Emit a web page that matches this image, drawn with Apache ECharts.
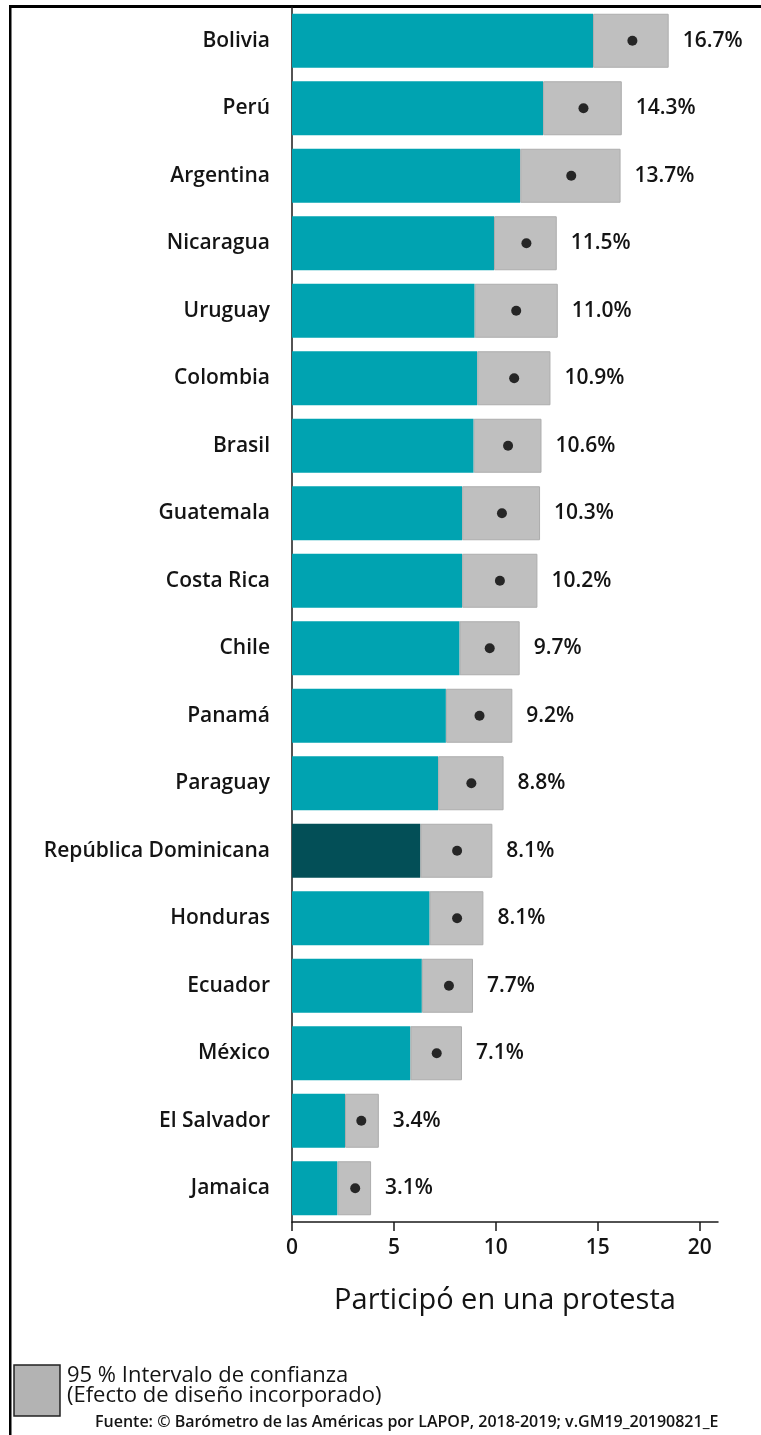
<!DOCTYPE html>
<html>
<head>
<meta charset="utf-8">
<script src="https://cdn.jsdelivr.net/npm/echarts@6/dist/echarts.min.js"></script>
<style>
html,body{margin:0;padding:0;background:#fff;}
#chart{width:761px;height:1435px;}
</style>
</head>
<body>
<div id="chart"></div>
<script>
var countries = ['Bolivia','Perú','Argentina','Nicaragua','Uruguay','Colombia','Brasil','Guatemala','Costa Rica','Chile','Panamá','Paraguay','República Dominicana','Honduras','Ecuador','México','El Salvador','Jamaica'];
var estimate = [16.7,14.3,13.7,11.5,11.0,10.9,10.6,10.3,10.2,9.7,9.2,8.8,8.1,8.1,7.7,7.1,3.4,3.1];
var ciLower = [14.77,12.32,11.2,9.91,8.96,9.09,8.91,8.35,8.35,8.22,7.55,7.17,6.3,6.75,6.37,5.81,2.6,2.23];
var ciUpper = [18.48,16.18,16.12,12.99,13.04,12.68,12.24,12.17,12.04,11.17,10.81,10.38,9.83,9.39,8.88,8.34,4.26,3.88];
var highlight = 'República Dominicana';
var xTicks = [0,5,10,15,20];
var axisTitle = 'Participó en una protesta';
var legendLines = ['95 % Intervalo de confianza','(Efecto de diseño incorporado)'];
var sourceText = 'Fuente: © Barómetro de las Américas por LAPOP, 2018-2019; v.GM19_20190821_E';

var FONT = '"Open Sans", "Noto Sans", sans-serif';
var TXT = '#141414';

var chart = echarts.init(document.getElementById('chart'), null, {renderer:'canvas'});

var lowerData = countries.map(function(c,i){
  return {value: ciLower[i], itemStyle:{color: c===highlight ? '#034F57' : '#00A3B1'}};
});
var spanData = countries.map(function(c,i){ return +(ciUpper[i]-ciLower[i]).toFixed(3); });
var dotData = countries.map(function(c,i){ return [estimate[i], c]; });

chart.setOption({
  animation:false,
  textStyle:{fontFamily:FONT},
  grid:{left:292, top:7, right:43, bottom:213, containLabel:false},
  xAxis:{
    type:'value', min:0, max:20.9, interval:5,
    axisLine:{show:true, lineStyle:{color:'#1a1a1a', width:1.5}},
    axisTick:{show:true, length:9, lineStyle:{color:'#1a1a1a', width:1.5}, customValues:xTicks},
    axisLabel:{color:TXT, fontSize:21, fontWeight:600, margin:16, customValues:xTicks, fontFamily:FONT},
    splitLine:{show:false},
    name:axisTitle, nameLocation:'middle', nameGap:64,
    nameTextStyle:{color:TXT, fontSize:29, fontWeight:500, fontFamily:FONT, verticalAlign:'top'}
  },
  yAxis:{
    type:'category', data:countries, inverse:true,
    axisLine:{show:true, lineStyle:{color:'#1a1a1a', width:1.5}},
    axisTick:{show:false},
    axisLabel:{color:TXT, fontSize:21, fontWeight:600, margin:22, fontFamily:FONT}
  },
  series:[
    {type:'bar', stack:'s', data:lowerData, barWidth:54, silent:true},
    {type:'bar', stack:'s', data:spanData, barWidth:54, silent:true,
     itemStyle:{color:'#BFBFBF', borderColor:'#ADADAD', borderWidth:1},
     label:{show:true, position:'right', distance:14, color:TXT, fontSize:21, fontWeight:600, fontFamily:FONT,
       formatter:function(p){ return estimate[p.dataIndex].toFixed(1)+'%'; }}
    },
    {type:'scatter', data:dotData, symbol:'circle', symbolSize:10, itemStyle:{color:'#000'}, silent:true, z:5}
  ],
  graphic:[
    {type:'rect', shape:{x:9, y:5, width:752, height:3}, style:{fill:'#000'}},
    {type:'rect', shape:{x:9, y:5, width:2.5, height:1430}, style:{fill:'#000'}},
    {type:'rect', shape:{x:14, y:1365, width:46, height:51}, style:{fill:'#B3B3B3', stroke:'#222', lineWidth:1.5}},
    {type:'text', left:67, top:1365, style:{text:legendLines[0], font:'500 22px '+FONT, fill:TXT}},
    {type:'text', left:67, top:1385, style:{text:legendLines[1], font:'500 22px '+FONT, fill:TXT}},
    {type:'text', left:95, top:1414, style:{text:sourceText, font:'600 16px '+FONT, fill:TXT}}
  ]
});
</script>
</body>
</html>
